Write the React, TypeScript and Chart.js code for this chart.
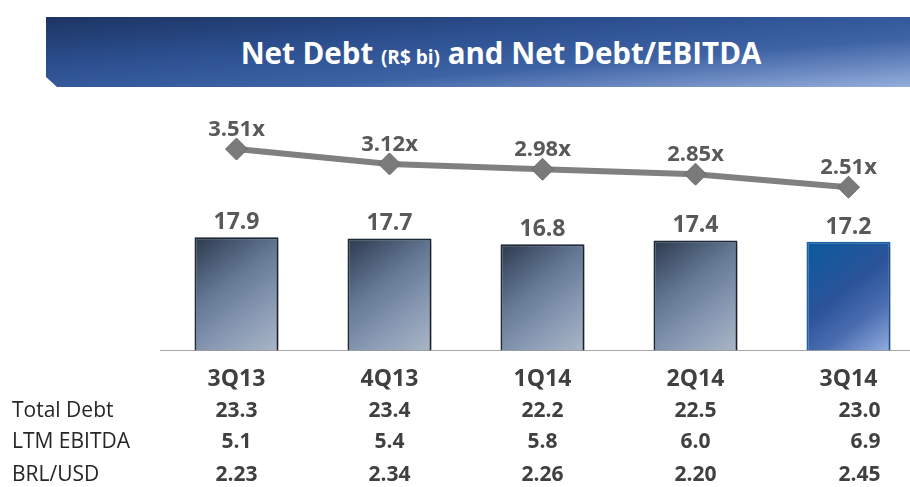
import React, { useEffect, useRef } from "react";
import { Chart, registerables } from "chart.js";

Chart.register(...registerables);

// ---- data ----
const categories = ["3Q13", "4Q13", "1Q14", "2Q14", "3Q14"];
const netDebt = [17.9, 17.7, 16.8, 17.4, 17.2];
const netDebtEbitda = [3.51, 3.12, 2.98, 2.85, 2.51];
const rowLabels = ["Total Debt", "LTM EBITDA", "BRL/USD"];
const totalDebt = [23.3, 23.4, 22.2, 22.5, 23.0];
const ltmEbitda = [5.1, 5.4, 5.8, 6.0, 6.9];
const brlUsd = [2.23, 2.34, 2.26, 2.2, 2.45];

const FONT = '"Open Sans", "Noto Sans", sans-serif';
const BAR_FRACTION = 0.915 * 0.6;

function barGradient(ctx: any) {
  const chart = ctx.chart;
  if (!chart.chartArea || ctx.type !== "data") return "#6b7f9c";
  const xs = chart.scales.x;
  const ys = chart.scales.y;
  const i = ctx.dataIndex;
  const cx = xs.getPixelForValue(i);
  const half = ((xs.width / categories.length) * BAR_FRACTION) / 2;
  const top = ys.getPixelForValue(netDebt[i]);
  const bottom = ys.getPixelForValue(0);
  const g = chart.ctx.createLinearGradient(cx - half, top, cx + half, bottom);
  if (i === categories.length - 1) {
    g.addColorStop(0, "#0a5a9e");
    g.addColorStop(0.45, "#2b5399");
    g.addColorStop(0.7, "#4a6db0");
    g.addColorStop(1, "#93addf");
  } else {
    g.addColorStop(0, "#2c394e");
    g.addColorStop(0.4, "#647894");
    g.addColorStop(0.7, "#8899b3");
    g.addColorStop(1, "#aab6c6");
  }
  return g;
}

const labelsPlugin = {
  id: "customLabels",
  beforeDatasetDraw(chart: any, args: any) {
    if (args.index === 0) {
      const c = chart.ctx;
      c.save();
      c.shadowColor = "rgba(0,0,0,0.35)";
      c.shadowBlur = 4;
      c.shadowOffsetX = 2;
      c.shadowOffsetY = 2;
    }
  },
  afterDatasetDraw(chart: any, args: any) {
    if (args.index === 0) chart.ctx.restore();
  },
  afterDatasetsDraw(chart: any) {
    const c = chart.ctx;
    c.save();
    c.textAlign = "center";
    c.textBaseline = "alphabetic";
    c.fillStyle = "#595959";
    c.font = `bold 23px ${FONT}`;
    chart.getDatasetMeta(0).data.forEach((el: any, i: number) => {
      c.fillText(netDebt[i].toFixed(1), el.x, el.y - 8);
    });
    c.font = `bold 22px ${FONT}`;
    chart.getDatasetMeta(1).data.forEach((el: any, i: number) => {
      c.fillText(netDebtEbitda[i].toFixed(2) + "x", el.x, el.y - 13);
    });
    c.restore();
  },
  afterDraw(chart: any) {
    const c = chart.ctx;
    const xs = chart.scales.x;
    const base = chart.chartArea.bottom;
    const rows = [
      { label: rowLabels[0], vals: totalDebt.map((v) => v.toFixed(1)), dy: 67 },
      { label: rowLabels[1], vals: ltmEbitda.map((v) => v.toFixed(1)), dy: 98 },
      { label: rowLabels[2], vals: brlUsd.map((v) => v.toFixed(2)), dy: 131 },
    ];
    c.save();
    c.textBaseline = "alphabetic";
    rows.forEach((r) => {
      const y = base + r.dy;
      c.font = `400 21px ${FONT}`;
      c.fillStyle = "#262626";
      c.textAlign = "left";
      c.fillText(r.label, 12, y);
      c.font = `bold 21px ${FONT}`;
      c.fillStyle = "#404040";
      r.vals.forEach((v, i) => {
        const x = xs.getPixelForValue(i);
        if (i === categories.length - 1) {
          c.textAlign = "right";
          c.fillText(v, x + 32, y);
        } else {
          c.textAlign = "center";
          c.fillText(v, x, y);
        }
      });
    });
    c.restore();
  },
};

export default function App() {
  const ref = useRef<HTMLCanvasElement | null>(null);

  useEffect(() => {
    if (!ref.current) return;
    const chart = new Chart(ref.current, {
      type: "bar",
      data: {
        labels: categories,
        datasets: [
          {
            type: "bar",
            label: "Net Debt",
            data: netDebt,
            yAxisID: "y",
            backgroundColor: barGradient,
            borderColor: (ctx: any) =>
              ctx.dataIndex === categories.length - 1 ? "#1a64ad" : "#1f2a3b",
            borderWidth: 2,
            barPercentage: 0.915,
            categoryPercentage: 0.6,
            order: 2,
          },
          {
            type: "line",
            label: "Net Debt/EBITDA",
            data: netDebtEbitda,
            yAxisID: "y2",
            borderColor: "#808080",
            borderWidth: 6,
            pointStyle: "rectRot",
            pointRadius: 11,
            pointBackgroundColor: "#7a7a7a",
            pointBorderColor: "#6a6a6a",
            pointBorderWidth: 1,
            tension: 0,
            order: 1,
          },
        ],
      },
      options: {
        animation: false,
        responsive: false,
        devicePixelRatio: 1,
        layout: { autoPadding: false, padding: { left: 160, right: 0, top: 100, bottom: 87 } },
        plugins: {
          legend: { display: false },
          tooltip: { enabled: false },
          title: { display: false },
        },
        scales: {
          x: {
            grid: { display: false },
            border: { display: true, color: "#a6a6a6", width: 1 },
            ticks: {
              color: "#404040",
              font: { family: FONT, size: 23, weight: "bold" },
              padding: 7,
            },
          },
          y: { display: false, min: 0, max: 39.6 },
          y2: { display: false, min: -1.78, max: 4.8 },
        },
      },
      plugins: [labelsPlugin],
    } as any);
    return () => chart.destroy();
  }, []);

  return (
    <div
      style={{
        position: "absolute",
        left: 0,
        top: 0,
        width: 910,
        height: 487,
        overflow: "hidden",
        background: "#ffffff",
      }}
    >
      <div
        style={{
          position: "absolute",
          left: 46,
          top: 17,
          width: 864,
          height: 70,
          background:
            "linear-gradient(to bottom right, #1d3463 0%, #2b4f8f 35%, #3e63a5 65%, #95addb 100%)",
          clipPath: "polygon(0 0, 100% 0, 100% 100%, 11px 100%, 0 60px)",
        }}
      >
        <div
          style={{
            position: "absolute",
            left: 46,
            right: 0,
            top: 0,
            bottom: 0,
            display: "flex",
            alignItems: "center",
            justifyContent: "center",
            color: "#ffffff",
            fontFamily: FONT,
            fontWeight: 700,
            fontSize: 29.5,
            whiteSpace: "nowrap",
          }}
        >
          <span>
            Net Debt <span style={{ fontSize: 19 }}>(R$ bi)</span> and Net Debt/EBITDA
          </span>
        </div>
      </div>
      <canvas
        ref={ref}
        width={925}
        height={487}
        style={{ position: "absolute", left: 0, top: 0, display: "block", width: 925, height: 487 }}
      />
    </div>
  );
}
